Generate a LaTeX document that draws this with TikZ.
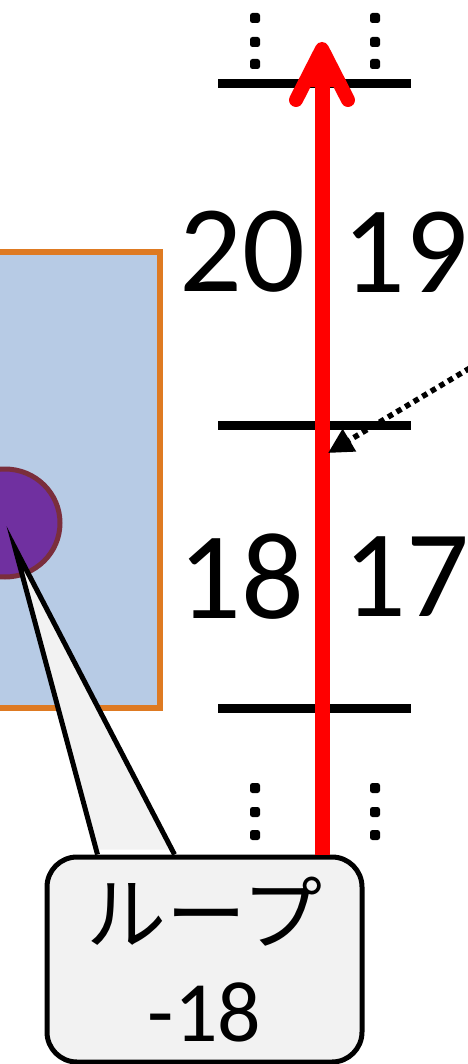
\documentclass[tikz,border=0pt]{standalone}
\usepackage{fontspec}
\setmainfont{Carlito}
\newfontfamily\jpfont{Noto Sans CJK JP}
\usepackage{tikz}
\usetikzlibrary{arrows.meta,positioning,calc}
\definecolor{panel}{HTML}{B7CBE5}
\definecolor{frame}{HTML}{DE7A22}
\definecolor{loopfill}{HTML}{7030A0}
\definecolor{loopedge}{HTML}{7A2E3C}
\definecolor{notefill}{HTML}{F2F2F2}
\tikzset{bar/.style={line width=9pt},
  num/.style={font=\fontsize{124}{126}\selectfont,inner sep=0pt},
  dotmark/.style={fill=black,rounded corners=2.5pt,minimum size=10pt,inner sep=0pt},
  pointer/.style={-{Triangle[length=25pt,width=25pt]},line width=5.5pt,dash pattern=on 5.5pt off 4.5pt},
  flow/.style={line width=15pt,draw=red},
  flowhead/.style={red,line width=14pt,line cap=round,line join=round},
  notebox/.style={draw=black,line width=5pt,fill=notefill,rounded corners=30pt,
  minimum width=315pt,minimum height=205pt,align=center,
  font=\fontsize{80}{98}\selectfont}}

\begin{document}
\begin{tikzpicture}[x=1pt,y=-1pt]
\useasboundingbox (0,0) rectangle (467,1064);
% board and loop
\draw[frame,fill=panel,line width=6pt] (-20,252) rectangle (160,708);
\draw[loopedge,fill=loopfill,line width=5pt] (5,523) ellipse (55 and 54);
\coordinate (looptip) at (15,548);
% boundaries
\foreach \y in {84,425,708} \draw[bar] (218,\y) -- (411,\y);
% callout
\node[notebox] (note) at (204.5,959.5) {{\jpfont ループ}\\{\fontsize{86}{98}\selectfont -18}};
\coordinate (end) at (322,49);
\coordinate (start) at (end |- note.north);
\draw[flow] (start) -- ($(end)+(0,20)$);
\fill[red] (end) -- ($(end)+(-18,38)$) -- ($(end)+(18,38)$) -- cycle;
\draw[flowhead] ($(end)+(-26,51)$) -- (end) -- ($(end)+(26,51)$);
% continuation dots
\foreach \x in {255,375} {
  \foreach \y in {18,42,64} \node[dotmark] at (\x,\y) {};
  \foreach \y in {788,812,835} \node[dotmark] at (\x,\y) {};
}
% lane numbers
\node[num] (n20) at (242,252) {20};
\node[num] (n19) at (405,252) {19};
\node[num] (n18) at (241,577) {18};
\node[num] (n17) at (406,577) {17};
% marker
\coordinate (from) at (470,368);
\coordinate (to) at (328,453);
\draw[pointer] (from) -- (to);
% pointer of the callout
\fill[notefill] ($(note.north west)+(53,-5)$) -- (looptip) -- ($(note.north west)+(130,-5)$) -- cycle;
\draw[line width=5pt,line join=miter] ($(note.north west)+(53,0)$) -- (looptip) -- ($(note.north west)+(130,0)$);
\end{tikzpicture}
\end{document}
